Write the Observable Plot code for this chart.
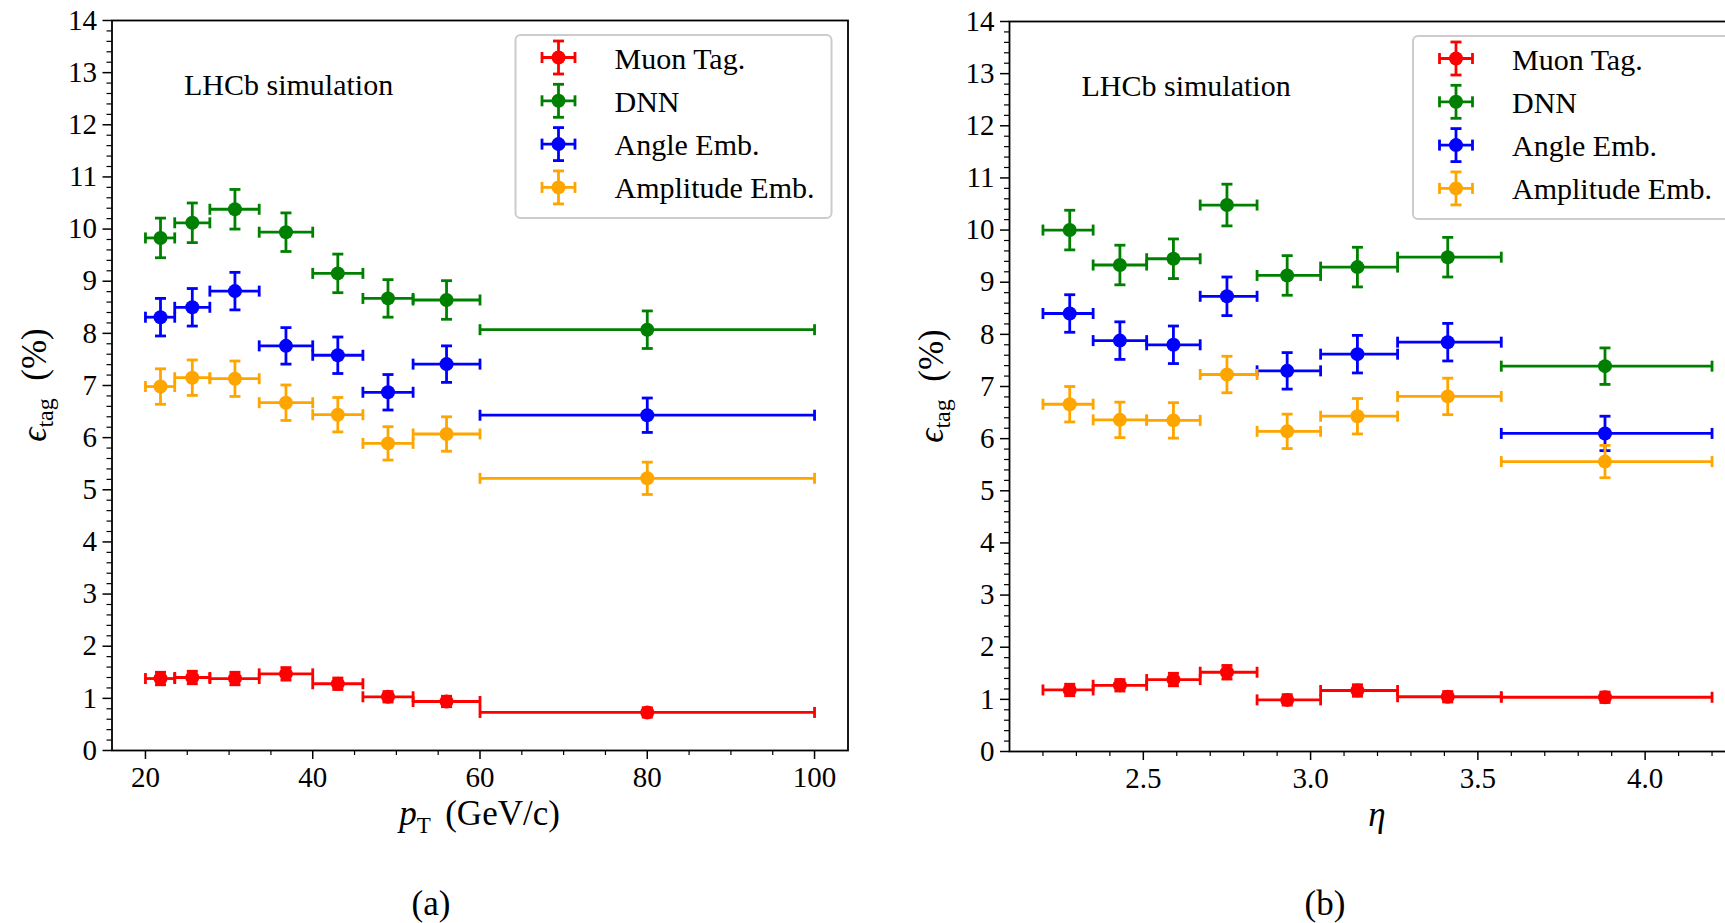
<!DOCTYPE html>
<html>
<head>
<meta charset="utf-8">
<script src="https://cdn.jsdelivr.net/npm/d3@7"></script>
<script src="https://cdn.jsdelivr.net/npm/@observablehq/plot@0.6"></script>
<style>
  html, body { margin: 0; padding: 0; background: #fff; overflow: hidden; width: 1725px; height: 923px; }
  #page { position: relative; width: 1725px; height: 923px; overflow: hidden;
          font-family: "Liberation Serif", "Times New Roman", serif; color: #000; }
  .panel { position: absolute; overflow: visible; }
  .panel svg { max-width: none !important; display: block; }
  .panel svg text { font-family: "Liberation Serif", "Times New Roman", serif; }
  .caption { position: absolute; font-size: 35px; line-height: 35px; transform: translateX(-50%); white-space: nowrap; }
</style>
</head>
<body>
<div id="page"></div>
<script>
// Tagging methods and their colours
const methods = ["Muon Tag.", "DNN", "Angle Emb.", "Amplitude Emb."];
const methodColors = ["red", "green", "blue", "orange"];

// Transverse-momentum bins (GeV/c)
const ptBinLow  = [20, 23.5, 27.7, 33.6, 40, 46, 52, 60];
const ptBinHigh = [23.5, 27.7, 33.6, 40, 46, 52, 60, 100];
const ptCentre  = [21.8, 25.6, 30.7, 36.8, 43, 49, 56, 80];

// Tagging efficiency (%) vs pT
const muonPt  = [1.38, 1.40, 1.38, 1.47, 1.28, 1.03, 0.94, 0.73];
const dnnPt   = [9.83, 10.12, 10.38, 9.94, 9.15, 8.67, 8.64, 8.07];
const anglePt = [8.31, 8.50, 8.81, 7.76, 7.58, 6.87, 7.41, 6.43];
const ampPt   = [6.98, 7.15, 7.13, 6.67, 6.44, 5.89, 6.07, 5.22];
const muonPtErr  = [0.12, 0.12, 0.12, 0.12, 0.11, 0.10, 0.10, 0.09];
const dnnPtErr   = [0.38, 0.38, 0.38, 0.37, 0.37, 0.36, 0.37, 0.36];
const anglePtErr = [0.36, 0.36, 0.36, 0.35, 0.35, 0.34, 0.35, 0.33];
const ampPtErr   = [0.34, 0.34, 0.34, 0.34, 0.33, 0.32, 0.33, 0.31];

// Pseudorapidity bins
const etaBinLow  = [2.2, 2.35, 2.51, 2.67, 2.84, 3.03, 3.26, 3.57];
const etaBinHigh = [2.35, 2.51, 2.67, 2.84, 3.03, 3.26, 3.57, 4.2];
const etaCentre  = [2.28, 2.43, 2.59, 2.75, 2.93, 3.14, 3.41, 3.88];

// Tagging efficiency (%) vs eta
const muonEta  = [1.18, 1.27, 1.38, 1.52, 0.99, 1.17, 1.05, 1.04];
const dnnEta   = [10.0, 9.33, 9.45, 10.48, 9.13, 9.29, 9.48, 7.39];
const angleEta = [8.40, 7.88, 7.80, 8.73, 7.30, 7.62, 7.85, 6.10];
const ampEta   = [6.66, 6.36, 6.35, 7.23, 6.14, 6.43, 6.81, 5.56];
const muonEtaErr  = [0.11, 0.11, 0.12, 0.13, 0.10, 0.11, 0.10, 0.10];
const dnnEtaErr   = [0.38, 0.38, 0.38, 0.40, 0.38, 0.38, 0.38, 0.35];
const angleEtaErr = [0.36, 0.36, 0.36, 0.37, 0.35, 0.36, 0.36, 0.33];
const ampEtaErr   = [0.34, 0.34, 0.34, 0.35, 0.33, 0.34, 0.35, 0.31];

// Axis ticks
const yTicks = [0, 1, 2, 3, 4, 5, 6, 7, 8, 9, 10, 11, 12, 13, 14];
const ptTicks = [20, 40, 60, 80, 100];
const etaTicks = [2.5, 3.0, 3.5, 4.0];
const yMinor = d3.range(1, 70).map(i => i / 5).filter(v => !Number.isInteger(v));
const ptMinor = d3.range(25, 100, 5).filter(v => v % 20 !== 0);
const etaMinor = d3.range(22, 43).map(i => i / 10).filter(v => Math.abs(v * 2 - Math.round(v * 2)) > 1e-6);

const FRAME_TOP = 20, FRAME_H = 730, FRAME_W = 736, MARGIN_BOTTOM = 110;
const FONT = "'Liberation Serif', 'Times New Roman', serif";
const BAR_W = 2.8, CAP = 5.5, DOT_R = 7;

// Error-bar caps as custom dot symbols (half-length = r)
const vCap = { draw(ctx, size) { const r = Math.sqrt(size / Math.PI); ctx.moveTo(0, -r); ctx.lineTo(0, r); } };
const hCap = { draw(ctx, size) { const r = Math.sqrt(size / Math.PI); ctx.moveTo(-r, 0); ctx.lineTo(r, 0); } };

function errorbarMarks(rows, color) {
  const common = { stroke: color, strokeWidth: BAR_W };
  return [
    Plot.link(rows, { x1: "lo", x2: "hi", y1: "v", y2: "v", ...common }),
    Plot.link(rows, { x1: "x", x2: "x", y1: d => d.v - d.e, y2: d => d.v + d.e, ...common }),
    Plot.dot(rows, { x: "lo", y: "v", symbol: vCap, r: CAP, fill: "none", ...common }),
    Plot.dot(rows, { x: "hi", y: "v", symbol: vCap, r: CAP, fill: "none", ...common }),
    Plot.dot(rows, { x: "x", y: d => d.v - d.e, symbol: hCap, r: CAP, fill: "none", ...common }),
    Plot.dot(rows, { x: "x", y: d => d.v + d.e, symbol: hCap, r: CAP, fill: "none", ...common }),
    Plot.dot(rows, { x: "x", y: "v", r: DOT_R, fill: color, stroke: "none" })
  ];
}

function drawPanel(cfg) {
  const marginLeft = cfg.marginLeft, marginRight = 20;
  const width = marginLeft + FRAME_W + marginRight;
  const height = FRAME_TOP + FRAME_H + MARGIN_BOTTOM;

  const marks = [
    Plot.axisY({ ticks: yMinor, tickSize: 5, strokeWidth: 1.2, tickFormat: () => "", label: null }),
    Plot.axisY({ ticks: yTicks, tickSize: 9, tickPadding: 6, strokeWidth: 1.5, tickFormat: d => String(d), label: null }),
    Plot.axisX({ ticks: cfg.xMinor, tickSize: 5, strokeWidth: 1.2, tickFormat: () => "", label: null }),
    Plot.axisX({ ticks: cfg.xTicks, tickSize: 9, tickPadding: 7, strokeWidth: 1.5, tickFormat: cfg.xFormat, label: null })
  ];
  cfg.series.forEach((s, k) => {
    const rows = cfg.centre.map((c, i) => ({ x: c, lo: cfg.lo[i], hi: cfg.hi[i], v: s.values[i], e: s.errors[i] }));
    marks.push(...errorbarMarks(rows, methodColors[k]));
  });
  marks.push(Plot.text(["LHCb simulation"], {
    text: d => d, frameAnchor: "top-left", dx: 72, dy: 74,
    textAnchor: "start", lineAnchor: "bottom", fontSize: 30
  }));
  marks.push(Plot.frame({ stroke: "black", strokeWidth: 1.8 }));

  const svg = Plot.plot({
    width, height,
    marginLeft, marginRight, marginTop: FRAME_TOP, marginBottom: MARGIN_BOTTOM,
    x: { domain: cfg.xDomain, label: null },
    y: { domain: [0, 14], label: null },
    style: { fontFamily: FONT, fontSize: "29px", color: "black", background: "transparent", overflow: "visible", maxWidth: "none" },
    marks
  });

  const root = d3.select(svg);
  const frameRight = marginLeft + FRAME_W;
  const frameMidX = marginLeft + FRAME_W / 2;
  const frameMidY = FRAME_TOP + FRAME_H / 2;

  // y-axis label: epsilon_tag (%)
  const yl = root.append("text")
    .attr("transform", `translate(${marginLeft - 66},${frameMidY}) rotate(-90)`)
    .attr("text-anchor", "middle")
    .attr("font-family", FONT).attr("font-size", 35).attr("fill", "black");
  yl.append("tspan").attr("font-style", "italic").text("ϵ");
  yl.append("tspan").attr("font-size", 24).attr("dy", 7).text("tag");
  yl.append("tspan").attr("dy", -7).text("\u2002(%)");

  // x-axis label
  const xl = root.append("text")
    .attr("x", frameMidX).attr("y", FRAME_TOP + FRAME_H + 75)
    .attr("text-anchor", "middle")
    .attr("font-family", FONT).attr("font-size", 35).attr("fill", "black");
  cfg.xLabel(xl);

  // Legend
  const lgW = 316, lgH = 183;
  const lgX = frameRight - 16 - lgW, lgY = FRAME_TOP + 15;
  const lg = root.append("g").attr("text-anchor", "start");
  lg.append("rect")
    .attr("x", lgX).attr("y", lgY).attr("width", lgW).attr("height", lgH).attr("rx", 5)
    .attr("fill", "white").attr("fill-opacity", 0.8)
    .attr("stroke", "#cccccc").attr("stroke-width", 2);
  methods.forEach((name, i) => {
    const cx = lgX + 43, cy = lgY + 22.5 + i * 43.3, col = methodColors[i];
    const seg = (x1, y1, x2, y2) => lg.append("line")
      .attr("x1", x1).attr("y1", y1).attr("x2", x2).attr("y2", y2)
      .attr("stroke", col).attr("stroke-width", BAR_W);
    seg(cx - 16.5, cy, cx + 16.5, cy);
    seg(cx, cy - 16.5, cx, cy + 16.5);
    seg(cx - 16.5, cy - CAP, cx - 16.5, cy + CAP);
    seg(cx + 16.5, cy - CAP, cx + 16.5, cy + CAP);
    seg(cx - CAP, cy - 16.5, cx + CAP, cy - 16.5);
    seg(cx - CAP, cy + 16.5, cx + CAP, cy + 16.5);
    lg.append("circle").attr("cx", cx).attr("cy", cy).attr("r", DOT_R).attr("fill", col);
    lg.append("text").attr("x", lgX + 99).attr("y", cy + 11).attr("text-anchor", "start")
      .attr("font-family", FONT).attr("font-size", 30).attr("fill", "black").text(name);
  });

  const holder = document.createElement("div");
  holder.className = "panel";
  holder.style.left = cfg.left + "px";
  holder.style.top = cfg.top + "px";
  holder.style.width = width + "px";
  holder.style.height = height + "px";
  holder.appendChild(svg);
  document.getElementById("page").appendChild(holder);

  const cap = document.createElement("div");
  cap.className = "caption";
  cap.style.left = cfg.captionX + "px";
  cap.style.top = "886px";
  cap.textContent = cfg.caption;
  document.getElementById("page").appendChild(cap);
}

drawPanel({
  left: 0, top: 0, marginLeft: 111.5,
  xDomain: [16, 104], xTicks: ptTicks, xMinor: ptMinor, xFormat: d => String(d),
  lo: ptBinLow, hi: ptBinHigh, centre: ptCentre,
  series: [
    { values: muonPt, errors: muonPtErr },
    { values: dnnPt, errors: dnnPtErr },
    { values: anglePt, errors: anglePtErr },
    { values: ampPt, errors: ampPtErr }
  ],
  xLabel: t => {
    t.append("tspan").attr("font-style", "italic").text("p");
    t.append("tspan").attr("font-size", 23).attr("dy", 7.5).text("T");
    t.append("tspan").attr("dy", -7.5).attr("dx", -3).text("\u2002(GeV/c)");
  },
  caption: "(a)", captionX: 431
});

drawPanel({
  left: 860, top: 1, marginLeft: 149,
  xDomain: [2.1, 4.3], xTicks: etaTicks, xMinor: etaMinor, xFormat: d3.format(".1f"),
  lo: etaBinLow, hi: etaBinHigh, centre: etaCentre,
  series: [
    { values: muonEta, errors: muonEtaErr },
    { values: dnnEta, errors: dnnEtaErr },
    { values: angleEta, errors: angleEtaErr },
    { values: ampEta, errors: ampEtaErr }
  ],
  xLabel: t => { t.append("tspan").attr("font-style", "italic").text("η"); },
  caption: "(b)", captionX: 1325
});
</script>
</body>
</html>
